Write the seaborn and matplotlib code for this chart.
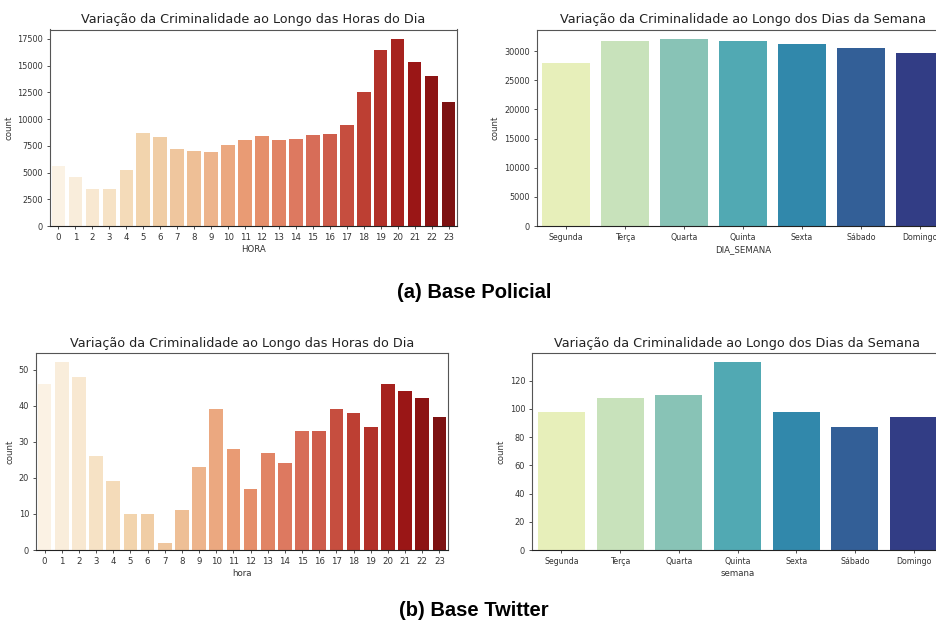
import matplotlib
matplotlib.use("Agg")
import matplotlib.pyplot as plt
from matplotlib import font_manager
import seaborn as sns
import pandas as pd

# ---- data ----
horas = [str(h) for h in range(24)]
policial_hora = [5600, 4600, 3500, 3500, 5200, 8700, 8300, 7200, 7000, 6900, 7600, 8000,
                 8400, 8000, 8100, 8500, 8600, 9400, 12500, 16500, 17500, 15300, 14000, 11600]
dias = ["Segunda", "Terça", "Quarta", "Quinta", "Sexta", "Sábado", "Domingo"]
policial_dia = [28000, 31800, 32100, 31800, 31300, 30600, 29600]
twitter_hora = [46, 52, 48, 26, 19, 10, 10, 2, 11, 23, 39, 28,
                17, 27, 24, 33, 33, 39, 38, 34, 46, 44, 42, 37]
twitter_dia = [98, 108, 110, 133, 98, 87, 94]

titulo_hora = "Variação da Criminalidade ao Longo das Horas do Dia"
titulo_dia = "Variação da Criminalidade ao Longo dos Dias da Semana"
legenda_a = "(a) Base Policial"
legenda_b = "(b) Base Twitter"

# ---- fonts ----
names = {f.name for f in font_manager.fontManager.ttflist}
plt.rcParams["font.family"] = ["DejaVu Sans"]
cap_font = "Liberation Sans" if "Liberation Sans" in names else "DejaVu Sans"

W, H = 936, 630
fig = plt.figure(figsize=(W / 100, H / 100), dpi=100)


def axpos(l, t, r, b):
    return [l / W, 1 - b / H, (r - l) / W, (b - t) / H]


panels = [
    (axpos(50, 29.5, 457, 226), horas, policial_hora, "HORA", "OrRd", titulo_hora, 6.2),
    (axpos(536.5, 29.5, 949.5, 226), dias, policial_dia, "DIA_SEMANA", "YlGnBu", titulo_dia, 5.7),
    (axpos(36, 353, 448, 550), horas, twitter_hora, "hora", "OrRd", titulo_hora, 6.2),
    (axpos(532, 353, 943, 550), dias, twitter_dia, "semana", "YlGnBu", titulo_dia, 5.7),
]

for pos, cats, vals, xlab, pal, title, xts in panels:
    ax = fig.add_axes(pos)
    df = pd.DataFrame({xlab: cats, "count": vals})
    sns.barplot(data=df, x=xlab, y="count", hue=xlab, order=cats, hue_order=cats,
                palette=pal, legend=False, ax=ax, width=0.8)
    ax.set_title(title, fontsize=9.2, pad=4.5, color="#222222")
    ax.set_xlabel(xlab, fontsize=6.2, labelpad=2, color="#333333")
    ax.set_ylabel("count", fontsize=6.2, labelpad=3, color="#333333")
    ax.tick_params(axis="y", labelsize=5.9, length=2.5, width=0.6, pad=2.5,
                   colors="#333333")
    ax.tick_params(axis="x", labelsize=xts, length=2.5, width=0.6, pad=2.5,
                   colors="#333333")
    for s in ax.spines.values():
        s.set_linewidth(0.8)
        s.set_color("#555555")
    ax.spines["bottom"].set_color("#222222")

fig.text(474 / W, 1 - 293 / H, legenda_a, ha="center", va="center",
         fontsize=14.5, fontweight="bold", family=cap_font)
fig.text(474 / W, 1 - 611 / H, legenda_b, ha="center", va="center",
         fontsize=14.5, fontweight="bold", family=cap_font)

fig.savefig("out.png", dpi=100)
